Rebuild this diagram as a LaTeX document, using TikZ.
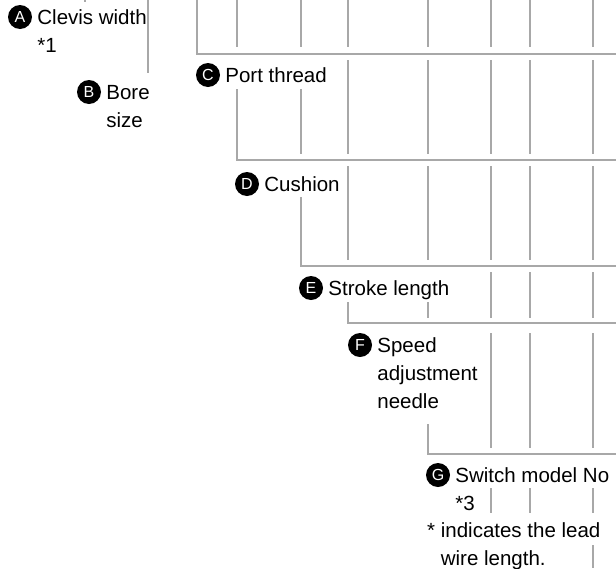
\documentclass[tikz,border=0pt]{standalone}
\usepackage{fontspec}
\setmainfont{Liberation Sans}
\usetikzlibrary{positioning}
\definecolor{stemgray}{RGB}{168,168,168}

\begin{document}
\begin{tikzpicture}[x=1pt,y=-1pt,
  badge/.style={circle,fill=black,text=white,inner sep=0pt,minimum size=24pt,font=\fontsize{16}{16}\selectfont},
  lbl/.style={inner sep=0pt,align=left,yshift=-1.5pt,font=\fontsize{20.5}{28}\selectfont},
  stem/.style={draw=stemgray,line width=2.2pt}]
\useasboundingbox (0,0) rectangle (616,568);

\node [badge] (a) at (20,17) {A};
\node [lbl,base right=5pt of a,yshift=-28pt] (clevis) {Clevis width\\*1};
\node [badge] (b) at (89,92) {B};
\node [lbl,base right=5pt of b,yshift=-28pt] (bore) {Bore\\size};
\node [badge] (c) at (208,75) {C};
\node [lbl,base right=5pt of c] (port) {Port thread};
\node [badge] (d) at (247,184) {D};
\node [lbl,base right=5pt of d] (cushion) {Cushion};
\node [badge] (e) at (311,288) {E};
\node [lbl,base right=5pt of e] (stroke) {Stroke length};
\node [badge] (f) at (360,345) {F};
\node [lbl,base right=5pt of f,yshift=-56pt] (needle) {Speed\\adjustment\\needle};
\node [badge] (g) at (438,475) {G};
\node [lbl,base right=5pt of g,yshift=-28pt] (switch) {Switch model No\\*3};
\node [lbl,anchor=base west,at={(427,564)}] (note) {*~indicates the lead\\\phantom{*~}wire length.};

% top row
\draw [stem] (85,0) -- (85,2);
\draw [stem] (148,0) -- (148,73);
\draw [stem] (197,0) -- (197,54) -- (616,54);
\draw [stem] (237,0) -- (237,47) (301,0) -- (301,47) (348,0) -- (348,47) (428,0) -- (428,47)
  (491,0) -- (491,47) (530,0) -- (530,47) (593,0) -- (593,47);
% port thread
\draw [stem] (237,89) -- (237,160) -- (616,160);
\draw [stem] (301,89) -- (301,154) (348,60) -- (348,154) (428,60) -- (428,154)
  (491,60) -- (491,154) (530,60) -- (530,154) (593,60) -- (593,154);
% cushion
\draw [stem] (301,197) -- (301,266) -- (616,266);
\draw [stem] (348,166) -- (348,260) (428,166) -- (428,260)
  (491,166) -- (491,260) (530,166) -- (530,260) (593,166) -- (593,260);
% stroke length
\draw [stem] (348,302) -- (348,323) -- (616,323);
\draw [stem] (428,302) -- (428,318) (491,272) -- (491,318) (530,272) -- (530,318) (593,272) -- (593,318);
% speed adjustment needle
\draw [stem] (428,424) -- (428,454) -- (616,454);
\draw [stem] (491,333) -- (491,448) (530,333) -- (530,448) (593,333) -- (593,448);
% switch model
\draw [stem] (491,488) -- (491,513) (530,488) -- (530,513) (593,488) -- (593,513);
\draw [stem] (593,545) -- (593,568);
\end{tikzpicture}
\end{document}
